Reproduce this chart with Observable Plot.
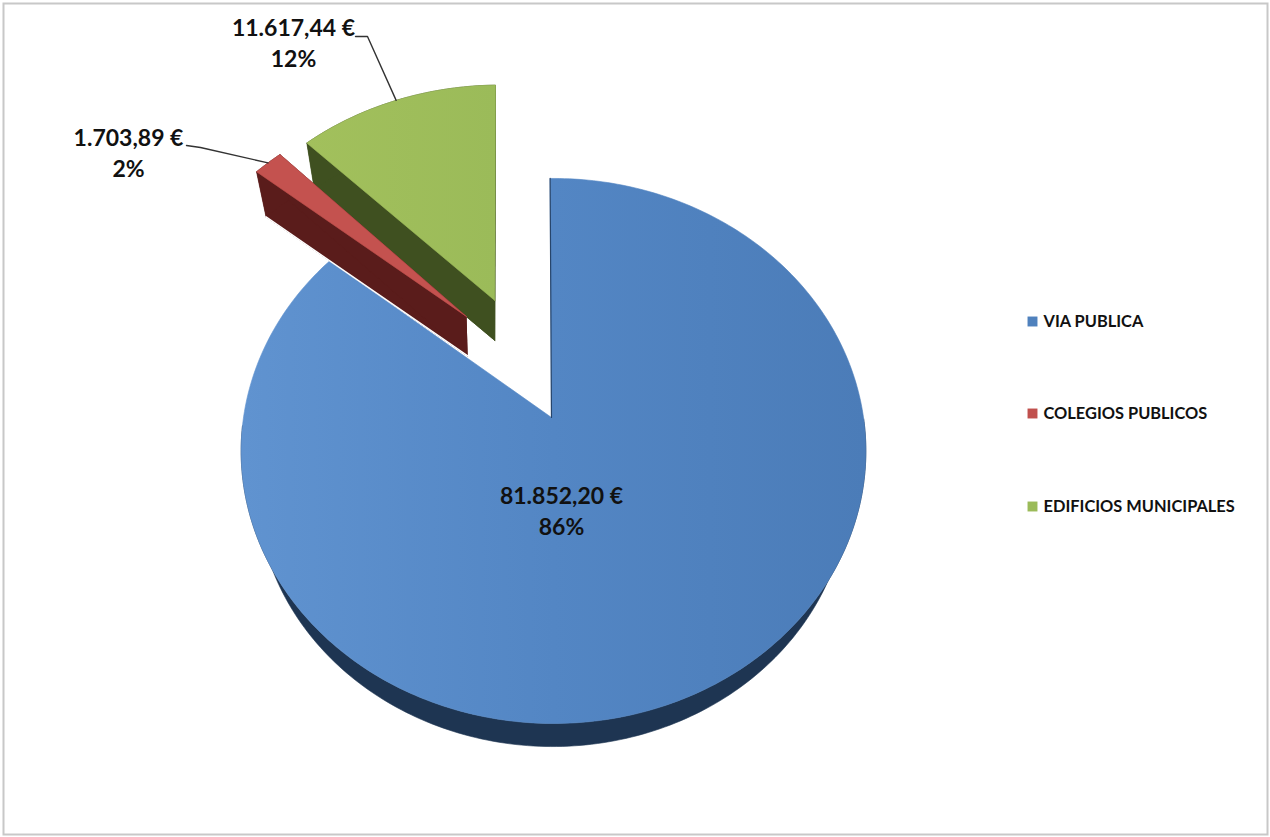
<!DOCTYPE html>
<html><head><meta charset="utf-8">
<script src="https://cdn.jsdelivr.net/npm/d3@7"></script>
<script src="https://cdn.jsdelivr.net/npm/@observablehq/plot@0.6"></script>
<style>html,body{margin:0;padding:0;background:#fff}svg{display:block}</style>
</head><body><div id="chart"></div>
<script>
// Data
const categories = ["VIA PUBLICA", "COLEGIOS PUBLICOS", "EDIFICIOS MUNICIPALES"];
const amounts = [81852.20, 1703.89, 11617.44];

// Styles
const topColors = ["url(#blueTop)", "#c4524f", "url(#greenTop)"];
const keyColors = ["#4f81bd", "#c0504d", "#9bbb59"];
const wallColors = ["#1e3552", "#5a1c1b", "#3f5020"];

// Layout: perspective of the pie, and how far each slice is pulled out
const pie3d = {cx: 553, cy: 417, A: 310, B: 268.4, k: 0.1228, vy: 1300, drop: 0.04};
const pull = [
  {u: 0, v: 0, turn: -0.7, apexU: -0.0065, vx: 535, dropX: 0.052, pulled: false},
  {u: -0.309, v: 0.394, turn: 0, apexU: 0.015, vx: 494, dropX: 0.04, pulled: true},
  {u: -0.205, v: 0.4606, turn: -0.9, apexU: 0.005, vx: 494, dropX: 0.04, pulled: true}
];
const labelSpots = [
  {x: 561, y: 509, leader: null},
  {x: 128, y: 151, leader: [[186, 145], [200, 147]]},
  {x: 293, y: 41, leader: [[355, 36], [367, 36]]}
];
const legendSpots = {key: 1032, text: 1043, rows: [321, 413, 506]};

const total = d3.sum(amounts);
const es = d3.formatLocale({decimal: ",", thousands: ".", grouping: [3], currency: ["", " €"]});
const money = es.format("$,.2f");

function project(u, v, lowered, p) {
  const d = 1 + pie3d.k * v;
  let x = pie3d.cx + pie3d.A * u / d, y = pie3d.cy - pie3d.B * v / d;
  if (lowered) {
    x = p.vx + (x - p.vx) * (1 - p.dropX);
    y = pie3d.vy + (y - pie3d.vy) * (1 - pie3d.drop);
  }
  return {x, y};
}
let running = 0;
const slices = amounts.map((value, i) => {
  const a0 = running / total * 360; running += value; const a1 = running / total * 360;
  const p = pull[i];
  const rim = (deg, lowered) => {
    const t = (deg + p.turn) * Math.PI / 180;
    return project(p.u + Math.sin(t), p.v + Math.cos(t), lowered, p);
  };
  const steps = d3.range(a0, a1, 1).concat([a1]);
  // the main slice only shows its wall along the near half of the rim
  const bandSteps = p.pulled ? steps : steps.filter(a => a > 90 && a < 270);
  const apex = l => project(p.u + p.apexU, p.v, l, p);
  return {
    i, value, a0, a1, pulled: p.pulled,
    top: [apex(false), ...steps.map(a => rim(a, false)), apex(false)],
    base: [apex(true), ...steps.map(a => rim(a, true)), apex(true)],
    band: [...bandSteps.map(a => rim(a, false)), ...bandSteps.slice().reverse().map(a => rim(a, true))],
    wall0: [apex(false), rim(a0, false), rim(a0, true), apex(true)],
    wall1: [apex(false), rim(a1, false), rim(a1, true), apex(true)],
    lowEdge: [rim(a0, true), apex(true)],
    firstEdge: [rim(a0, false), apex(false)],
    mid: rim((a0 + a1) / 2, false)
  };
});

const poly = (pts, fill) => Plot.line(pts, {x: "x", y: "y", fill, stroke: fill, strokeWidth: 0.6, curve: "linear"});
const drawSlice = s => [
  ...(s.pulled ? [poly(s.base, wallColors[s.i]), poly(s.wall0, wallColors[s.i]), poly(s.wall1, wallColors[s.i])] : []),
  poly(s.band, wallColors[s.i]),
  poly(s.top, topColors[s.i])
];

const labels = slices.map(s => ({
  text: `${money(s.value)}\n${Math.round(s.value / total * 100)}%`,
  x: labelSpots[s.i].x, y: labelSpots[s.i].y
}));
const leaders = slices.filter(s => labelSpots[s.i].leader)
  .map(s => [...labelSpots[s.i].leader.map(([x, y]) => ({x, y})), s.mid]);
const legendRows = categories.map((name, i) => ({name, color: keyColors[i], y: legendSpots.rows[i]}));

const chart = Plot.plot({
  width: 1270, height: 837,
  marginTop: 0, marginRight: 0, marginBottom: 0, marginLeft: 0,
  x: {domain: [0, 1270], range: [0, 1270], axis: null},
  y: {domain: [0, 837], range: [0, 837], axis: null},
  style: {background: "#fff"},
  marks: [
    Plot.frame({stroke: "#c8c8c8", strokeWidth: 2, inset: 3}),
    ...drawSlice(slices[0]),
    Plot.line(slices[0].firstEdge, {x: "x", y: "y", stroke: "#27456b", strokeWidth: 1.2}),
    ...drawSlice(slices[2]),
    ...drawSlice(slices[1]),
    Plot.line(slices[1].lowEdge, {x: "x", y: "y", stroke: "#fff", strokeWidth: 1.5}),
    ...leaders.map(l => Plot.line(l, {x: "x", y: "y", stroke: "#333", strokeWidth: 1.4, curve: "linear"})),
    Plot.text(labels, {x: "x", y: "y", text: "text", fontFamily: "Lato", fontWeight: 700, fontSize: 23, lineHeight: 1.37, fill: "#111", textAnchor: "middle"}),
    Plot.dot(legendRows, {x: () => legendSpots.key, y: "y", symbol: "square", r: 5.6, fill: "color", stroke: "none"}),
    Plot.text(legendRows, {x: () => legendSpots.text, y: "y", text: "name", fontFamily: "Lato", fontWeight: 700, fontSize: 16.4, fill: "#111", textAnchor: "start"})
  ]
});

// Gradients referenced by the top faces
const defs = d3.select(chart).insert("defs", ":first-child");
const grad = (id, stops) => {
  const g = defs.append("linearGradient").attr("id", id).attr("x1", 0).attr("x2", 1).attr("y1", 0).attr("y2", 0);
  stops.forEach(([o, c]) => g.append("stop").attr("offset", o).attr("stop-color", c));
};
grad("blueTop", [[0, "#6093d0"], [0.5, "#5386c4"], [1, "#4b7cb8"]]);
grad("greenTop", [[0, "#a2c05c"], [1, "#9bbb59"]]);
document.getElementById("chart").append(chart);
</script></body></html>
